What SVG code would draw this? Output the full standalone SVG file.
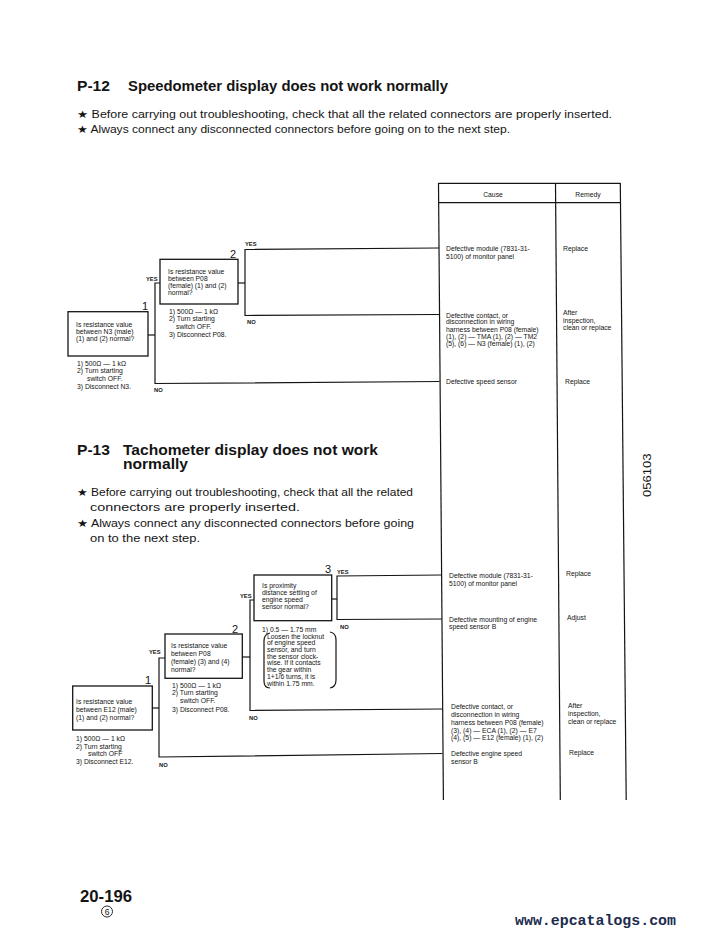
<svg xmlns="http://www.w3.org/2000/svg" width="727" height="937" viewBox="0 0 727 937">
<style>
text{font-family:"Liberation Sans",Arial,"DejaVu Sans",sans-serif;fill:#141414}
.h{font-size:14px;font-weight:bold}
.b{font-size:10.5px}
.s{font-size:6.8px}
.y{font-size:5.8px;font-weight:bold}
.n{font-size:11px}
.box{fill:none;stroke:#141414;stroke-width:1.3}
.ln{fill:none;stroke:#141414;stroke-width:1.2}
.mid{text-anchor:middle}
</style>
<rect width="727" height="937" fill="#fff"/>

<g id="header-p12">
<text class="h" x="77" y="91" textLength="33" lengthAdjust="spacingAndGlyphs">P-12</text>
<text class="h" x="128" y="91" textLength="320" lengthAdjust="spacingAndGlyphs">Speedometer display does not work normally</text>
<text class="b" x="77" y="118" textLength="535" lengthAdjust="spacingAndGlyphs">★ Before carrying out troubleshooting, check that all the related connectors are properly inserted.</text>
<text class="b" x="77" y="133" textLength="433" lengthAdjust="spacingAndGlyphs">★ Always connect any disconnected connectors before going on to the next step.</text>
</g>

<g id="table">
<line class="ln" x1="438.5" y1="183.3" x2="620.3" y2="183.3"/>
<line class="ln" x1="438.6" y1="202.7" x2="620.4" y2="202.7"/>
<line class="ln" x1="438.5" y1="183" x2="443.4" y2="800"/>
<line class="ln" x1="555.5" y1="183" x2="560.3" y2="800"/>
<line class="ln" x1="620.3" y1="183" x2="626.2" y2="800"/>
<text class="s mid" x="493" y="197">Cause</text>
<text class="s mid" x="588" y="197">Remedy</text>
</g>

<g id="connectors">
<polyline class="ln" points="148,335 155,335"/>
<polyline class="ln" points="160,283 155,283 155,383.5 439.5,381.5"/>
<polyline class="ln" points="238,283 245,283"/>
<polyline class="ln" points="439,248 245,249.5 245,315.5 439,314.5"/>
<polyline class="ln" points="152,708 159,708"/>
<polyline class="ln" points="165,658 159,658 159,757 442.5,753.5"/>
<polyline class="ln" points="242,657 250,657"/>
<polyline class="ln" points="254,600 250,600 250,710.5 442.2,709"/>
<polyline class="ln" points="332,599 337,599"/>
<polyline class="ln" points="442,575 337,576 337,619.5 442,619"/>
<text class="y" x="146" y="280.5">YES</text>
<text class="y" x="154" y="392">NO</text>
<text class="y" x="245" y="246">YES</text>
<text class="y" x="247" y="324">NO</text>
<text class="y" x="149" y="654">YES</text>
<text class="y" x="159" y="766.5">NO</text>
<text class="y" x="240" y="597.5">YES</text>
<text class="y" x="249" y="720">NO</text>
<text class="y" x="337" y="574">YES</text>
<text class="y" x="340" y="628.5">NO</text>
</g>

<g id="p12-step1">
<rect class="box" x="68" y="311.7" width="80" height="44.3"/>
<text class="n" x="142" y="310">1</text>
<text class="s" x="76" y="327">Is resistance value</text>
<text class="s" x="76" y="334">between N3 (male)</text>
<text class="s" x="76" y="341">(1) and (2) normal?</text>
<text class="s" x="77" y="365.5">1) 500Ω — 1 kΩ</text>
<text class="s" x="77" y="373.3">2) Turn starting</text>
<text class="s" x="87" y="381">switch OFF.</text>
<text class="s" x="77" y="388.8">3) Disconnect N3.</text>
</g>

<g id="p12-step2">
<rect class="box" x="160" y="259.3" width="78" height="44.7"/>
<text class="n" x="230" y="258">2</text>
<text class="s" x="168" y="273.5">Is resistance value</text>
<text class="s" x="168" y="280.5">between P08</text>
<text class="s" x="168" y="287.5">(female) (1) and (2)</text>
<text class="s" x="168" y="294.5">normal?</text>
<text class="s" x="169" y="313.5">1) 500Ω — 1 kΩ</text>
<text class="s" x="169" y="321.3">2) Turn starting</text>
<text class="s" x="176" y="329">switch OFF.</text>
<text class="s" x="169" y="336.8">3) Disconnect P08.</text>
</g>

<g id="p12-causes">
<text class="s" x="446" y="250.5">Defective module (7831-31-</text>
<text class="s" x="446" y="258.5">5100) of monitor panel</text>
<text class="s" x="563" y="251">Replace</text>
<text class="s" x="446" y="317.5">Defective contact, or</text>
<text class="s" x="446" y="324.4">disconnection in wiring</text>
<text class="s" x="446" y="331.5">harness between P08 (female)</text>
<text class="s" x="446" y="338.6">(1), (2) — TMA (1), (2) — TM2</text>
<text class="s" x="446" y="345.8">(5), (6) — N3 (female) (1), (2)</text>
<text class="s" x="563" y="315">After</text>
<text class="s" x="563" y="322.5">inspection,</text>
<text class="s" x="563" y="330">clean or replace</text>
<text class="s" x="446" y="384">Defective speed sensor</text>
<text class="s" x="565" y="383.5">Replace</text>
</g>

<g id="header-p13">
<text class="h" x="77" y="454.5" textLength="33" lengthAdjust="spacingAndGlyphs">P-13</text>
<text class="h" x="123" y="454.5" textLength="255" lengthAdjust="spacingAndGlyphs">Tachometer display does not work</text>
<text class="h" x="123" y="469" textLength="65" lengthAdjust="spacingAndGlyphs">normally</text>
<text class="b" x="77" y="496" textLength="336" lengthAdjust="spacingAndGlyphs">★ Before carrying out troubleshooting, check that all the related</text>
<text class="b" x="90" y="511" textLength="210" lengthAdjust="spacingAndGlyphs">connectors are properly inserted.</text>
<text class="b" x="77" y="526.5" textLength="337" lengthAdjust="spacingAndGlyphs">★ Always connect any disconnected connectors before going</text>
<text class="b" x="90" y="542" textLength="110" lengthAdjust="spacingAndGlyphs">on to the next step.</text>
</g>

<g id="p13-step1">
<rect class="box" x="72.7" y="686" width="79.6" height="44"/>
<text class="n" x="145" y="684">1</text>
<text class="s" x="76" y="703.5">Is resistance value</text>
<text class="s" x="76" y="711.5">between E12 (male)</text>
<text class="s" x="76" y="719.5">(1) and (2) normal?</text>
<text class="s" x="76" y="740.8">1) 500Ω — 1 kΩ</text>
<text class="s" x="76" y="748.5">2) Turn starting</text>
<text class="s" x="88" y="755.8">switch OFF</text>
<text class="s" x="76" y="763.5">3) Disconnect E12.</text>
</g>

<g id="p13-step2">
<rect class="box" x="165" y="634" width="77.3" height="44.3"/>
<text class="n" x="232" y="633">2</text>
<text class="s" x="171" y="647.5">Is resistance value</text>
<text class="s" x="171" y="655.5">between P08</text>
<text class="s" x="171" y="663.5">(female) (3) and (4)</text>
<text class="s" x="171" y="671.5">normal?</text>
<text class="s" x="172" y="687.5">1) 500Ω — 1 kΩ</text>
<text class="s" x="172" y="695.2">2) Turn starting</text>
<text class="s" x="180" y="703.2">switch OFF.</text>
<text class="s" x="172" y="711.5">3) Disconnect P08.</text>
</g>

<g id="p13-step3">
<rect class="box" x="254" y="575" width="77.7" height="45.7"/>
<text class="n" x="325" y="573">3</text>
<text class="s" x="262" y="587.5">Is proximity</text>
<text class="s" x="262" y="594.7">distance setting of</text>
<text class="s" x="262" y="601.9">engine speed</text>
<text class="s" x="262" y="609.1">sensor normal?</text>
<text class="s" x="262" y="632">1) 0.5 — 1.75 mm</text>
<path class="ln" d="M270,633 Q264,634 264,641 L264,681 Q264,688 270,688" stroke-width="0.9"/>
<path class="ln" d="M330,632 Q336,633 336,640 L336,680 Q336,687 330,688" stroke-width="0.9"/>
<text class="s" x="267" y="638.5">Loosen the locknut</text>
<text class="s" x="267" y="645.2">of engine speed</text>
<text class="s" x="267" y="651.9">sensor, and turn</text>
<text class="s" x="267" y="658.6">the sensor clock-</text>
<text class="s" x="267" y="665.3">wise. If it contacts</text>
<text class="s" x="267" y="672">the gear within</text>
<text class="s" x="267" y="678.7">1+1/6 turns, it is</text>
<text class="s" x="267" y="685.6">within 1.75 mm.</text>
</g>

<g id="p13-causes">
<text class="s" x="449" y="577.5">Defective module (7831-31-</text>
<text class="s" x="449" y="586">5100) of monitor panel</text>
<text class="s" x="566" y="576">Replace</text>
<text class="s" x="449" y="622">Defective mounting of engine</text>
<text class="s" x="449" y="629">speed sensor B</text>
<text class="s" x="567" y="620">Adjust</text>
<text class="s" x="451" y="709">Defective contact, or</text>
<text class="s" x="451" y="716.8">disconnection in wiring</text>
<text class="s" x="451" y="724.8">harness between P08 (female)</text>
<text class="s" x="451" y="732.5">(3), (4) — ECA (1), (2) — E7</text>
<text class="s" x="451" y="740.2">(4), (5) — E12 (female) (1), (2)</text>
<text class="s" x="568" y="708">After</text>
<text class="s" x="568" y="716">inspection,</text>
<text class="s" x="568" y="724">clean or replace</text>
<text class="s" x="451" y="756">Defective engine speed</text>
<text class="s" x="451" y="763.5">sensor B</text>
<text class="s" x="569" y="755">Replace</text>
</g>

<g id="footer">
<text x="80" y="902" style="font-size:16px;font-weight:bold" textLength="52" lengthAdjust="spacingAndGlyphs">20-196</text>
<circle cx="107" cy="911.5" r="5.5" fill="none" stroke="#141414" stroke-width="0.9"/>
<text x="107" y="914.5" class="mid" style="font-size:8.5px">6</text>
<text transform="translate(651,497) rotate(-90)" style="font-size:10px" textLength="43.5" lengthAdjust="spacingAndGlyphs">056103</text>
<text x="515" y="925" style="font-family:'Liberation Mono','DejaVu Sans Mono',monospace;font-size:15px;font-weight:bold;fill:#1c2b4d" textLength="161" lengthAdjust="spacingAndGlyphs">www.epcatalogs.com</text>
</g>
</svg>
